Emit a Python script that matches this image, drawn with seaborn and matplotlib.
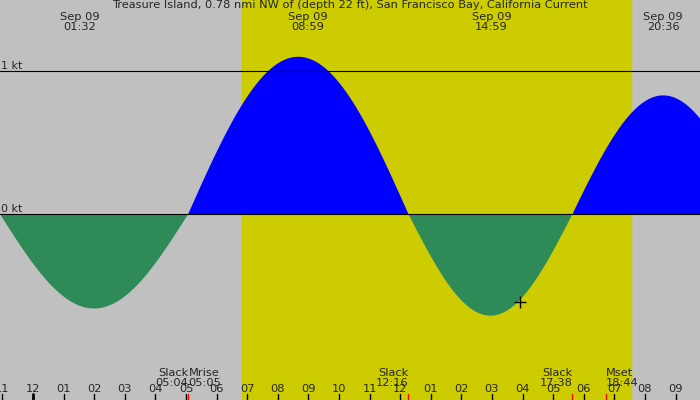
import numpy as np
import seaborn as sns
import matplotlib.pyplot as plt

sns.set_style("white")
plt.rcParams['font.family'] = ['DejaVu Sans']

# slack times (hours after midnight) and peak current of each lobe between them
slack_hours = [-1.08, 5.07, 12.27, 17.63, 23.57]
peak_kt = [-0.66, 1.10, -0.71, 0.83]
top_labels = ["Sep 09\n01:32", "Sep 09\n08:59", "Sep 09\n14:59", "Sep 09\n20:36"]
top_hours = [1.53, 8.98, 14.98, 20.6]
event_labels = ["k\n3", "Slack\n05:04", "Mrise\n05:05", "Slack\n12:16", "Slack\n17:38", "Mset\n18:44"]
event_hours = [-1.3, 5.07, 5.08, 12.27, 17.63, 18.73]
red_hours = [5.08, 12.27, 17.63, 18.73]
tick_names = ["11", "12", "01", "02", "03", "04", "05", "06", "07", "08", "09", "10", "11",
              "12", "01", "02", "03", "04", "05", "06", "07", "08", "09"]
sun_up, sun_down = 6.83, 19.54
x0, x1 = -1.08, 21.8

t = np.linspace(x0, x1, 800)
v = np.zeros_like(t)
for s0, s1, p in zip(slack_hours[:-1], slack_hours[1:], peak_kt):
    m = (t >= s0) & (t <= s1)
    v[m] = p * np.sin(np.pi * (t[m] - s0) / (s1 - s0))

fig = plt.figure(figsize=(7, 4), dpi=100)
ax = fig.add_axes([0, 0, 1, 1])
ax.set_xlim(x0, x1)
ax.set_ylim(-1.30, 1.497)
ax.set_facecolor("#c0c0c0")
ax.axvspan(sun_up, sun_down, color="#cccc00", zorder=0)
ax.fill_between(t, 0, v, where=v >= 0, color="#0000ff", lw=0)
ax.fill_between(t, 0, v, where=v <= 0, color="#2e8b57", lw=0)
ax.axhline(0, color="black", lw=0.8)
ax.axhline(1, color="black", lw=0.8)
ax.text(x0 + 0.03, 1.0, "1 kt", va="bottom", fontsize=8)
ax.text(x0 + 0.03, 0.0, "0 kt", va="bottom", fontsize=8)
ax.plot([15.92], [-0.615], marker="+", color="black", ms=8, mew=1)

ax.text((x0 + x1) / 2, 1.497, "Treasure Island, 0.78 nmi NW of (depth 22 ft), San Francisco Bay, California Current",
        ha="center", va="top", fontsize=8.2)
for h, s in zip(top_hours, top_labels):
    ax.text(h, 1.41, s, ha="center", va="top", fontsize=8.2, linespacing=1.0)
for h, s in zip(event_hours, event_labels):
    ha = "right" if s.startswith("Slack") or s.startswith("k") else "left"
    ax.text(h, -1.075, s, ha=ha, va="top", fontsize=8.2, linespacing=1.0)

for i, name in enumerate(tick_names):
    h = i - 1
    ax.text(h, -1.22, name, ha="center", va="center", fontsize=8.2)
    ax.plot([h, h], [-1.30, -1.255], color="black", lw=2 if h == 0 else 1)
for h in red_hours:
    ax.plot([h, h], [-1.30, -1.255], color="red", lw=1)

ax.set_xticks([])
ax.set_yticks([])
for sp in ax.spines.values():
    sp.set_visible(False)
fig.savefig("out.png", dpi=100)
